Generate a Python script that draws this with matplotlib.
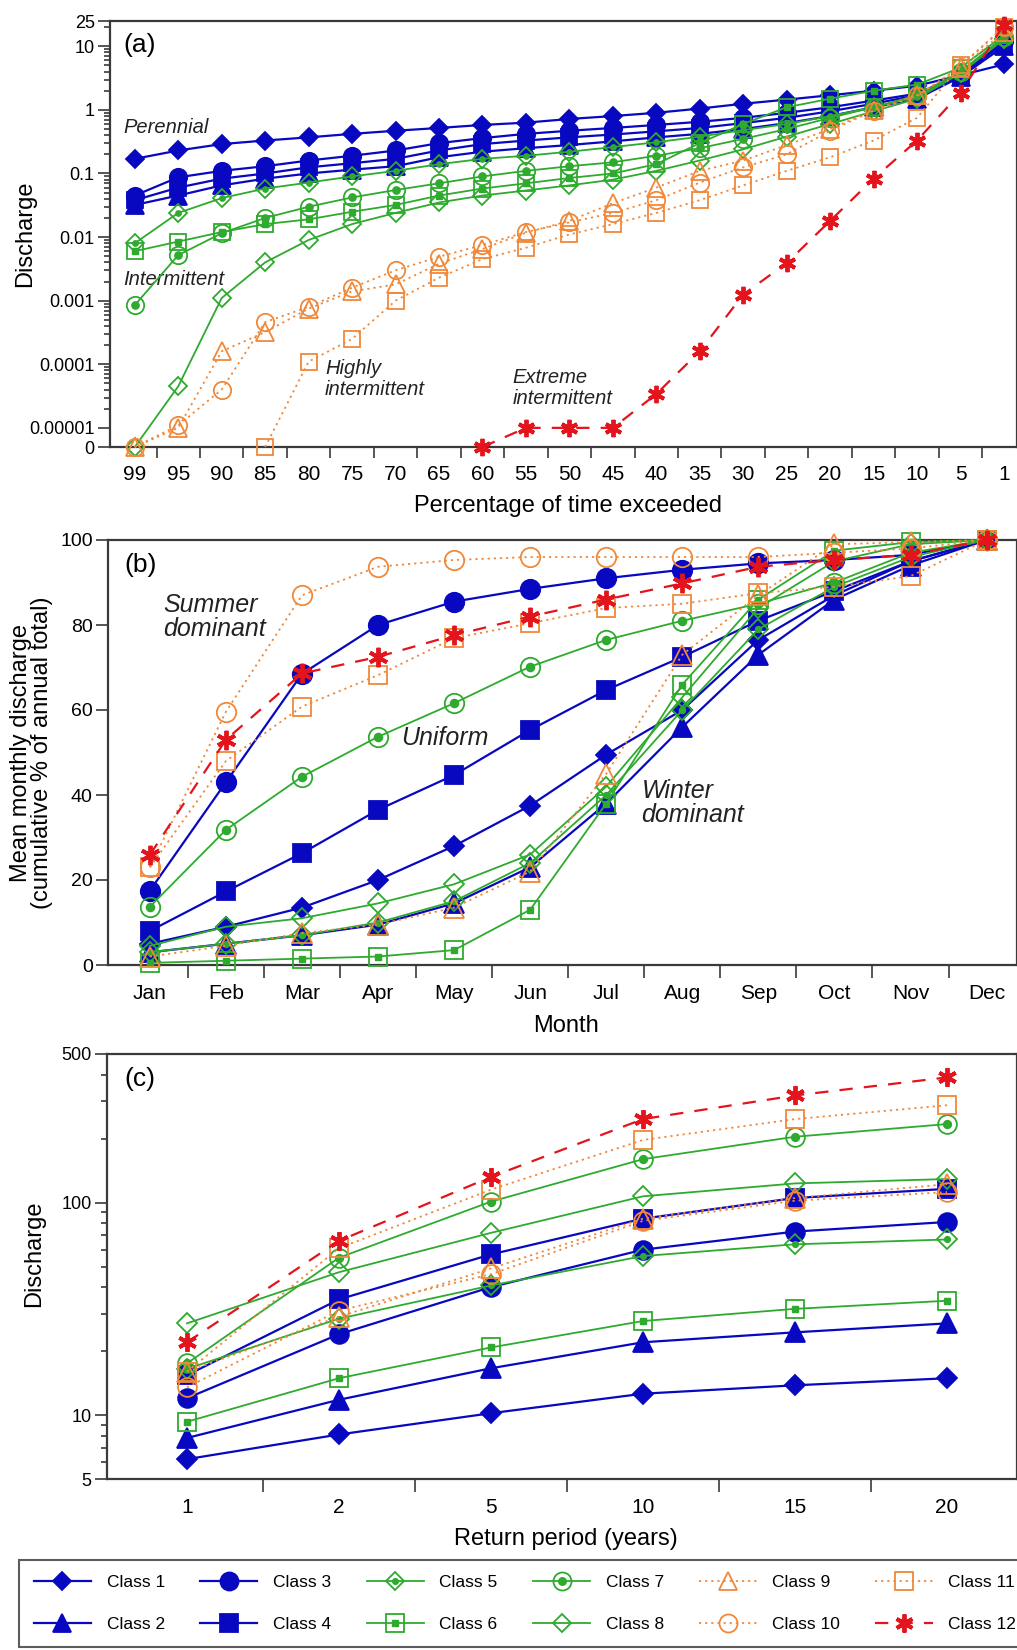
import numpy as np
import matplotlib
matplotlib.use("Agg")
import matplotlib.pyplot as plt
from matplotlib.lines import Line2D
from matplotlib.legend_handler import HandlerTuple
from matplotlib.ticker import FixedLocator, NullFormatter

plt.rcParams['font.family'] = ['Liberation Sans', 'DejaVu Sans']

# ---------------- data ----------------
class_names = [f"Class {i}" for i in range(1, 13)]

# (a) flow duration curves
exceed_labels = ['99', '95', '90', '85', '80', '75', '70', '65', '60', '55', '50',
                 '45', '40', '35', '30', '25', '20', '15', '10', '5', '1']
nan = np.nan
a_c1 = [0.17, 0.23, 0.29, 0.33, 0.37, 0.42, 0.47, 0.52, 0.58, 0.63, 0.72, 0.80, 0.90, 1.05, 1.25, 1.45, 1.7, 2.0, 2.4, 3.5, 5.2]
a_c2 = [0.032, 0.045, 0.065, 0.083, 0.10, 0.115, 0.13, 0.18, 0.22, 0.25, 0.28, 0.32, 0.37, 0.42, 0.50, 0.62, 0.80, 1.1, 1.5, 3.3, 10]
a_c3 = [0.045, 0.087, 0.11, 0.13, 0.16, 0.19, 0.23, 0.30, 0.36, 0.42, 0.47, 0.52, 0.58, 0.65, 0.75, 0.90, 1.1, 1.4, 1.8, 3.6, 12]
a_c4 = [0.038, 0.060, 0.083, 0.10, 0.125, 0.145, 0.17, 0.23, 0.29, 0.33, 0.37, 0.41, 0.46, 0.52, 0.62, 0.75, 0.95, 1.25, 1.7, 3.5, 11]
a_c5 = [0.008, 0.024, 0.041, 0.058, 0.072, 0.09, 0.11, 0.14, 0.17, 0.19, 0.22, 0.26, 0.31, 0.38, 0.48, 0.60, 0.80, 1.1, 1.6, 3.8, 13]
a_c6 = [0.006, 0.0085, 0.012, 0.016, 0.019, 0.025, 0.032, 0.045, 0.058, 0.07, 0.085, 0.10, 0.14, 0.30, 0.60, 1.1, 1.5, 2.0, 2.5, 4.6, 15]
a_c7 = [0.00085, 0.0052, 0.0115, 0.02, 0.03, 0.042, 0.055, 0.07, 0.09, 0.11, 0.13, 0.15, 0.19, 0.25, 0.35, 0.50, 0.75, 1.1, 1.7, 4.0, 14]
a_c8 = [0, 4.5e-5, 0.0011, 0.004, 0.009, 0.016, 0.024, 0.035, 0.045, 0.054, 0.065, 0.08, 0.11, 0.16, 0.24, 0.38, 0.60, 0.95, 1.5, 3.8, 13]
a_c9 = [0, 1e-5, 1.6e-4, 3.2e-4, 7.5e-4, 1.4e-3, 1.8e-3, 3.8e-3, 6.5e-3, 0.0117, 0.018, 0.034, 0.06, 0.11, 0.16, 0.28, 0.50, 1.0, 1.7, 4.5, 17]
a_c10 = [0, 1.1e-5, 4e-5, 4.6e-4, 8e-4, 1.6e-3, 3e-3, 4.9e-3, 7.5e-3, 0.012, 0.017, 0.024, 0.038, 0.072, 0.125, 0.20, 0.47, 0.97, 1.65, 4.8, 20]
a_c11 = [nan, nan, nan, 0, 1.1e-4, 2.5e-4, 1e-3, 2.3e-3, 4.5e-3, 0.0068, 0.011, 0.016, 0.024, 0.038, 0.065, 0.11, 0.18, 0.33, 0.75, 5.0, 20]
a_c12 = [nan, nan, nan, nan, nan, nan, nan, nan, 0, 1e-5, 1e-5, 1e-5, 3.4e-5, 1.6e-4, 1.25e-3, 3.9e-3, 0.018, 0.083, 0.33, 1.85, 22]
a_ytick_values = [0, 1e-5, 1e-4, 1e-3, 0.01, 0.1, 1, 10, 25]
a_ytick_labels = ['0', '0.00001', '0.0001', '0.001', '0.01', '0.1', '1', '10', '25']
a_zero_level = 5e-6   # where "0" sits on the log axis

# (b) cumulative monthly discharge
months = ['Jan', 'Feb', 'Mar', 'Apr', 'May', 'Jun', 'Jul', 'Aug', 'Sep', 'Oct', 'Nov', 'Dec']
b_c1 = [5, 9, 13.5, 20, 28, 37.5, 49.5, 60, 76.5, 87, 95, 100]
b_c2 = [3, 5, 7, 9.5, 14.5, 23, 38, 56, 73, 86, 94, 100]
b_c3 = [17.5, 43, 68.5, 80, 85.5, 88.5, 91, 93, 94.5, 95.3, 96.5, 100]
b_c4 = [8, 17.3, 26.3, 36.5, 44.7, 55.3, 64.7, 72.5, 81, 88, 95, 100]
b_c5 = [3, 5, 7, 10, 15, 24, 40, 60, 79, 89, 96, 100]
b_c6 = [0.5, 1, 1.5, 2, 3.5, 13, 38, 66, 86, 97.5, 99.5, 100]
b_c7 = [13.7, 31.8, 44.3, 53.7, 61.6, 70.2, 76.5, 81, 85, 90, 97, 100]
b_c8 = [4.5, 9, 11, 14.5, 19, 26, 42, 63, 84, 95, 99, 100]
b_c9 = [2, 4.5, 7.5, 9.5, 13.5, 22, 45, 73, 87, 99, 99.5, 100]
b_c10 = [23, 59.6, 87, 93.7, 95.3, 96, 96, 96, 96, 97, 98, 100]
b_c11 = [23, 48, 60.8, 68.2, 76.9, 80.4, 84, 85, 87.5, 89, 91.5, 100]
b_c12 = [25.9, 53, 68.6, 72.5, 77.6, 82, 86, 89.8, 93.7, 95.3, 96.5, 100]

# (c) flood frequency
return_periods = ['1', '2', '5', '10', '15', '20']
c_c1 = [6.2, 8.1, 10.2, 12.6, 13.8, 14.9]
c_c2 = [7.8, 11.8, 16.6, 22, 24.5, 27]
c_c3 = [12, 24, 40, 60, 73, 81]
c_c4 = [15.4, 35, 57, 84, 105, 116]
c_c5 = [16.5, 28.4, 40.7, 56, 63.6, 67]
c_c6 = [9.3, 14.9, 20.8, 27.7, 31.6, 34.5]
c_c7 = [17.5, 55, 101, 160, 204, 234]
c_c8 = [27, 47, 72, 107, 123, 129]
c_c9 = [16, 29, 49, 84, 105, 122]
c_c10 = [13.5, 31, 46, 82, 102, 112]
c_c11 = [16, 61, 115, 197, 247, 287]
c_c12 = [22, 66, 132, 247, 319, 388]

# ---------------- styles ----------------
BLUE = '#0808c0'
GREEN = '#2eaa2e'
ORANGE = '#f0883a'
RED = '#e3141c'
AST = (6, 2, 0)
DOT = (0, (1.2, 2.2))
DASH = (0, (6, 5))
# colour, marker, filled, linestyle, inner marker, linewidth, size factor
styles = [
    (BLUE, 'D', True, '-', None, 1.6, 0.74),
    (BLUE, '^', True, '-', None, 1.6, 1.05),
    (BLUE, 'o', True, '-', None, 1.6, 1.0),
    (BLUE, 's', True, '-', None, 1.6, 0.95),
    (GREEN, 'D', False, '-', 'o', 1.3, 0.74),
    (GREEN, 's', False, '-', 's', 1.3, 0.95),
    (GREEN, 'o', False, '-', 'o', 1.3, 1.0),
    (GREEN, 'D', False, '-', None, 1.3, 0.74),
    (ORANGE, '^', False, DOT, None, 1.3, 1.05),
    (ORANGE, 'o', False, DOT, None, 1.3, 1.0),
    (ORANGE, 's', False, DOT, None, 1.3, 0.95),
    (RED, AST, False, DASH, None, 1.6, 1.0),
]


def draw_series(ax, x, y, k, size):
    col, mk, filled, ls, inner, lw, sf = styles[k]
    ms = size * sf
    mew = 2.8 if mk == AST else 1.3
    ax.plot(x, y, color=col, ls=ls, lw=lw, marker=mk, ms=ms,
            mfc=col if filled else 'none', mec=col, mew=mew,
            clip_on=False, zorder=3 + k * 0.1)
    if inner is not None:
        ax.plot(x, y, ls='none', marker=inner, ms=ms * (0.42 if inner == 'o' else 0.36),
                mfc=col, mec=col, clip_on=False, zorder=3 + k * 0.1 + 0.05)


def style_axes(ax):
    for s in ax.spines.values():
        s.set_linewidth(1.6)
        s.set_color('#3a3a3a')
    ax.tick_params(which='both', direction='out', color='#3a3a3a', width=1.2)
    ax.tick_params(which='major', length=9, pad=2)
    ax.tick_params(which='minor', length=4.5)


W, H = 1017, 1650
fig = plt.figure(figsize=(W / 100, H / 100), dpi=100)

# ---------------- (a) ----------------
axA = fig.add_axes([110 / W, 1 - 447 / H, (W - 110) / W, (447 - 21) / H])
xa = np.arange(len(exceed_labels))
a_series = [a_c1, a_c2, a_c3, a_c4, a_c5, a_c6, a_c7, a_c8, a_c9, a_c10, a_c11, a_c12]
axA.set_yscale('log')
for k, ser in enumerate(a_series):
    arr = np.array(ser, dtype=float)
    arr = np.where(arr == 0, a_zero_level, arr)
    draw_series(axA, xa, arr, k, 12.5)
axA.set_xlim(-0.57, 20.3)
axA.set_ylim(a_zero_level, 25)
style_axes(axA)
ytv = [a_zero_level if v == 0 else v for v in a_ytick_values]
axA.yaxis.set_major_locator(FixedLocator(ytv))
axA.set_yticklabels(a_ytick_labels, fontsize=13)
minors = []
for d in range(-5, 2):
    for m in range(2, 10):
        v = m * 10.0 ** d
        if v < 25:
            minors.append(v)
axA.yaxis.set_minor_locator(FixedLocator(minors))
axA.yaxis.set_minor_formatter(NullFormatter())
axA.set_xticks(xa)
axA.set_xticklabels(exceed_labels, fontsize=15)
axA.set_xticks(np.arange(0.5, 20, 1), minor=True)
axA.tick_params(axis='x', which='major', length=0, pad=13)
axA.tick_params(axis='x', which='minor', length=8)
axA.set_ylabel('Discharge', fontsize=17)
axA.yaxis.set_label_coords(-0.082, 0.5)
axA.set_xlabel('Percentage of time exceeded', fontsize=17)
axA.xaxis.set_label_coords(0.505, -0.113)
axA.text(0.015, 0.944, '(a)', transform=axA.transAxes, fontsize=19, va='center', ha='left')
axA.text(0.015, 0.751, 'Perennial', transform=axA.transAxes, fontsize=14.5, style='italic', va='center', color='#222222')
axA.text(0.015, 0.394, 'Intermittent', transform=axA.transAxes, fontsize=14.5, style='italic', va='center', color='#222222')
axA.text(0.237, 0.16, 'Highly\nintermittent', transform=axA.transAxes, fontsize=14.5, style='italic', va='center', linespacing=1.1, color='#222222')
axA.text(0.444, 0.138, 'Extreme\nintermittent', transform=axA.transAxes, fontsize=14.5, style='italic', va='center', linespacing=1.1, color='#222222')

# ---------------- (b) ----------------
axB = fig.add_axes([108 / W, 1 - 965 / H, (W - 108) / W, (965 - 540) / H])
xb = np.arange(len(months))
b_series = [b_c1, b_c2, b_c3, b_c4, b_c5, b_c6, b_c7, b_c8, b_c9, b_c10, b_c11, b_c12]
for k, ser in enumerate(b_series):
    draw_series(axB, xb, ser, k, 14)
axB.set_xlim(-0.55, 11.4)
axB.set_ylim(0, 100)
style_axes(axB)
axB.set_yticks([0, 20, 40, 60, 80, 100])
axB.set_yticklabels(['0', '20', '40', '60', '80', '100'], fontsize=14)
axB.set_xticks(xb)
axB.set_xticklabels(months, fontsize=15)
axB.set_xticks(np.arange(0.5, 11, 1), minor=True)
axB.tick_params(axis='x', which='major', length=0, pad=14)
axB.tick_params(axis='x', which='minor', length=9)
axB.set_ylabel('Mean monthly discharge\n(cumulative % of annual total)', fontsize=17, linespacing=0.95)
axB.yaxis.set_label_coords(-0.06, 0.5)
axB.set_xlabel('Month', fontsize=17)
axB.xaxis.set_label_coords(0.504, -0.118)
axB.text(0.018, 0.941, '(b)', transform=axB.transAxes, fontsize=19, va='center', ha='left')
axB.text(0.0605, 0.819, 'Summer\ndominant', transform=axB.transAxes, fontsize=18, style='italic', va='center', linespacing=1.0, color='#222222')
axB.text(0.323, 0.534, 'Uniform', transform=axB.transAxes, fontsize=18, style='italic', va='center', color='#222222')
axB.text(0.587, 0.381, 'Winter\ndominant', transform=axB.transAxes, fontsize=18, style='italic', va='center', linespacing=1.0, color='#222222')

# ---------------- (c) ----------------
axC = fig.add_axes([107 / W, 1 - 1479 / H, (W - 107) / W, (1479 - 1054) / H])
xc = np.arange(len(return_periods))
c_series = [c_c1, c_c2, c_c3, c_c4, c_c5, c_c6, c_c7, c_c8, c_c9, c_c10, c_c11, c_c12]
axC.set_yscale('log')
for k, ser in enumerate(c_series):
    draw_series(axC, xc, ser, k, 13.5)
axC.set_xlim(-0.526, 5.46)
axC.set_ylim(5, 500)
style_axes(axC)
axC.yaxis.set_major_locator(FixedLocator([5, 10, 100, 500]))
axC.set_yticklabels(['5', '10', '100', '500'], fontsize=13)
cminor = [6, 7, 8, 9, 20, 30, 40, 50, 60, 70, 80, 90, 200, 300, 400]
axC.yaxis.set_minor_locator(FixedLocator(cminor))
axC.yaxis.set_minor_formatter(NullFormatter())
axC.set_xticks(xc)
axC.set_xticklabels(return_periods, fontsize=15)
axC.set_xticks(np.arange(0.5, 5, 1), minor=True)
axC.tick_params(axis='x', which='major', length=0, pad=14)
axC.tick_params(axis='x', which='minor', length=9)
axC.set_ylabel('Discharge', fontsize=17)
axC.yaxis.set_label_coords(-0.068, 0.53)
axC.set_xlabel('Return period (years)', fontsize=17)
axC.xaxis.set_label_coords(0.504, -0.115)
axC.text(0.019, 0.941, '(c)', transform=axC.transAxes, fontsize=19, va='center', ha='left')

# ---------------- legend ----------------
handles = []
for k in range(12):
    col, mk, filled, ls, inner, lw, sf = styles[k]
    ms = 13 * sf
    mew = 2.8 if mk == AST else 1.3
    outer = Line2D([], [], color=col, ls=ls, lw=lw, marker=mk, ms=ms,
                   mfc=col if filled else 'none', mec=col, mew=mew)
    if inner is not None:
        dot = Line2D([], [], ls='none', marker=inner,
                     ms=ms * (0.42 if inner == 'o' else 0.36), mfc=col, mec=col)
        handles.append((outer, dot))
    else:
        handles.append(outer)

leg = fig.legend(handles, class_names, ncol=6, loc='upper left',
                 bbox_to_anchor=(19 / W, 0.0, 0.995, 1 - 1560 / H), mode='expand',
                 handler_map={tuple: HandlerTuple(ndivide=1, pad=0)},
                 fontsize=12.5, frameon=True, fancybox=False, edgecolor='#333333',
                 handlelength=3.3, handletextpad=0.9, labelspacing=1.55,
                 borderpad=0.85, borderaxespad=0)
leg.get_frame().set_linewidth(1.5)
leg._legend_box.align = 'left'

fig.savefig('out.png', dpi=100)
